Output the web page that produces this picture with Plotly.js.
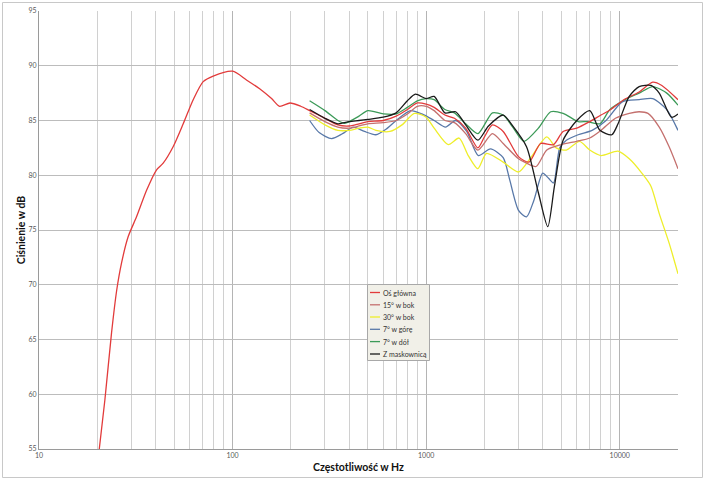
<!DOCTYPE html>
<html>
<head>
<meta charset="utf-8">
<script src="https://cdn.plot.ly/plotly-3.0.1.min.js"></script>
<style>html,body{margin:0;padding:0;background:#fff;}#chart{width:705px;height:481px;}</style>
</head>
<body>
<div id="chart"></div>
<script>
// ---- data ----
const seriesNames = ["Oś główna", "15° w bok", "30° w bok", "7° w górę", "7° w dół", "Z maskownicą"];
const seriesColors = ["#e23b3b", "#c4706e", "#eeee2a", "#5878a8", "#3c9a58", "#1a1a1a"];

const freqMain = [20, 21.9, 23.7, 25.2, 26.7, 28.9, 31.9, 36, 40.5, 43.8, 49.3, 55.6, 62.6, 70.5, 79.4, 100, 118, 138, 159, 175, 198, 225, 250, 300, 350, 400, 450, 500, 600, 700, 800, 900, 1000, 1100, 1250, 1400, 1600, 1850, 2000, 2200, 2500, 3000, 3400, 3900, 4550, 5100, 6000, 7000, 8000, 9000, 10500, 12600, 14800, 16500, 20000];
const dbMain = [53.4, 59.5, 65.6, 69.5, 72.0, 74.4, 76.2, 78.65, 80.5, 81.1, 82.6, 84.7, 86.9, 88.55, 89.06, 89.5, 88.7, 87.9, 87.0, 86.3, 86.6, 86.3, 85.9, 85.2, 84.6, 84.5, 84.7, 84.9, 85.0, 85.4, 86.0, 86.6, 86.5, 86.2, 85.5, 85.2, 84.3, 82.5, 83.5, 84.6, 84.0, 81.7, 81.2, 82.9, 82.8, 84.0, 84.3, 84.9, 85.5, 86.0, 86.9, 87.6, 88.5, 88.2, 86.9];

const freq15 = [250, 300, 350, 400, 450, 500, 600, 700, 800, 900, 1000, 1100, 1250, 1400, 1600, 1850, 2200, 2500, 3000, 3300, 3700, 4200, 5000, 6000, 7000, 8000, 9500, 11200, 12600, 14000, 16000, 18000, 20000];
const db15 = [85.7, 84.9, 84.4, 84.3, 84.5, 84.7, 84.8, 85.0, 85.6, 86.3, 86.3, 85.9, 85.0, 84.8, 83.8, 82.3, 83.8, 82.9, 81.5, 81.1, 80.8, 82.3, 82.8, 83.1, 83.4, 84.1, 85.2, 85.65, 85.8, 85.65, 84.4, 82.6, 80.6];

const freq30 = [250, 300, 350, 400, 450, 500, 550, 650, 750, 870, 1000, 1100, 1300, 1480, 1650, 1850, 2050, 2500, 3000, 3500, 4200, 4700, 5300, 6200, 7000, 8000, 9800, 11200, 13000, 14500, 16000, 18000, 20000];
const db30 = [85.5, 84.6, 84.1, 84.1, 84.3, 84.4, 84.1, 84.0, 84.6, 85.65, 85.3, 84.3, 82.8, 83.4, 81.8, 80.6, 82.0, 81.2, 80.3, 81.7, 83.5, 82.5, 82.3, 83.1, 82.3, 81.8, 82.2, 81.5, 80.2, 79.0, 76.5, 73.8, 71.0];

const freqUp = [250, 280, 325, 370, 420, 480, 550, 620, 700, 830, 950, 1100, 1260, 1420, 1620, 1860, 2150, 2500, 2700, 3000, 3300, 3600, 4000, 4300, 4550, 4900, 5300, 6100, 7200, 8500, 10300, 12600, 14800, 17500, 20000];
const dbUp = [85.0, 83.9, 83.35, 83.8, 84.4, 84.0, 83.7, 84.2, 85.0, 85.9, 85.6, 85.0, 84.4, 85.0, 84.0, 81.8, 82.4, 81.6, 79.6, 76.8, 76.2, 77.7, 80.2, 79.7, 79.3, 82.5, 83.2, 83.7, 84.1, 85.0, 86.7, 86.9, 87.0, 86.0, 84.1];

const freqDown = [250, 300, 350, 380, 450, 500, 600, 700, 800, 900, 1000, 1100, 1250, 1400, 1600, 1850, 2200, 2500, 2800, 3200, 3800, 4400, 5100, 6100, 6800, 7900, 8900, 10900, 12600, 14800, 17500, 20000];
const dbDown = [86.8, 85.9, 85.0, 84.75, 85.4, 85.9, 85.6, 85.6, 86.2, 86.8, 87.0, 86.9, 86.0, 85.7, 84.7, 83.8, 85.7, 85.5, 84.4, 83.1, 84.3, 85.8, 85.65, 84.9, 84.9, 84.7, 86.0, 87.0, 87.5, 88.1, 87.5, 86.4];

const freqGrill = [250, 300, 350, 400, 450, 500, 600, 700, 800, 880, 1000, 1100, 1250, 1420, 1600, 1850, 2100, 2500, 2800, 3300, 3800, 4250, 4600, 5100, 6000, 7000, 7900, 9100, 9800, 11200, 12600, 14500, 16000, 18500, 20000];
const dbGrill = [86.0, 85.2, 84.7, 84.9, 85.0, 85.1, 85.3, 85.7, 86.8, 87.4, 87.0, 87.2, 85.7, 85.8, 84.6, 83.2, 84.5, 85.5, 84.5, 82.6, 78.4, 75.3, 79.0, 83.2, 85.0, 85.9, 84.1, 83.7, 84.7, 87.2, 88.1, 88.2, 87.5, 85.3, 85.6];

const xMajorTicks = [10, 100, 1000, 10000];
const xMajorLabels = ["10", "100", "1000", "10000"];
const xMinorTicks = [20, 30, 40, 50, 60, 70, 80, 90, 200, 300, 400, 500, 600, 700, 800, 900, 2000, 3000, 4000, 5000, 6000, 7000, 8000, 9000, 20000];

const xTitle = "Częstotliwość w Hz";
const yTitle = "Ciśnienie w dB";

// ---- build ----
const allX = [freqMain, freq15, freq30, freqUp, freqDown, freqGrill];
const allY = [dbMain, db15, db30, dbUp, dbDown, dbGrill];
const FONT = 'Lato, "Open Sans", "DejaVu Sans", sans-serif';

const traces = seriesNames.map((n, i) => ({
  type: 'scatter', mode: 'lines', name: n,
  x: allX[i], y: allY[i],
  line: {color: seriesColors[i], width: 1.3, shape: 'spline', smoothing: 0.7},
  showlegend: false, hoverinfo: 'skip'
}));
// draw order: bundle first, black on top
const order = [4, 3, 2, 1, 0, 5];
const data = order.map(i => traces[i]);

// plot area in pixels
const L = 39, R = 678, T = 11, B = 449;
const px2x = p => (p - L) / (R - L);
const px2y = p => (B - p) / (B - T);

const shapes = [];
const annotations = [];
// outer chart frame
shapes.push({type: 'rect', xref: 'paper', yref: 'paper', x0: px2x(2.5), x1: px2x(702.5), y0: px2y(477.5), y1: px2y(2.5),
  line: {color: '#c8c8c8', width: 1}, fillcolor: 'rgba(0,0,0,0)', layer: 'below'});
// legend box
shapes.push({type: 'rect', xref: 'paper', yref: 'paper', x0: px2x(367.5), x1: px2x(429.5), y0: px2y(360.5), y1: px2y(284.5),
  line: {color: '#a8a8a8', width: 1}, fillcolor: '#f1f0e8', layer: 'above'});
const legendRows = [292.5, 304.8, 317, 329.3, 341.6, 354];
seriesNames.forEach((n, i) => {
  const yy = px2y(legendRows[i]);
  shapes.push({type: 'line', xref: 'paper', yref: 'paper', x0: px2x(370), x1: px2x(380), y0: yy, y1: yy,
    line: {color: seriesColors[i], width: 1.3}, layer: 'above'});
  annotations.push({xref: 'paper', yref: 'paper', x: px2x(380.5), y: yy, xanchor: 'left', yanchor: 'middle',
    text: n, showarrow: false, font: {family: FONT, size: 7, color: '#333333'}});
});

const layout = {
  width: 705, height: 481,
  margin: {l: L, r: 705 - R, t: T, b: 481 - B, pad: 0},
  paper_bgcolor: '#ffffff', plot_bgcolor: '#ffffff',
  font: {family: FONT, color: '#404040'},
  xaxis: {
    type: 'log', range: [1, Math.log10(20000)],
    tickmode: 'array', tickvals: xMajorTicks, ticktext: xMajorLabels,
    ticks: '', tickfont: {size: 7, color: '#595959'},
    showgrid: true, gridcolor: '#b4b4b4', gridwidth: 1,
    minor: {tickmode: 'array', tickvals: xMinorTicks, showgrid: true, gridcolor: '#d0d0d0', gridwidth: 1, ticks: ''},
    showline: true, linecolor: '#9a9a9a', linewidth: 1, zeroline: false,
    title: {text: xTitle, font: {family: FONT, size: 10.5, color: '#111111', weight: 'bold'}, standoff: 5}
  },
  yaxis: {
    range: [55, 95], tick0: 55, dtick: 5,
    ticks: '', tickfont: {size: 7, color: '#595959'},
    showgrid: true, gridcolor: '#bcbcbc', gridwidth: 1,
    showline: true, linecolor: '#9a9a9a', linewidth: 1, zeroline: false,
    title: {text: yTitle, font: {family: FONT, size: 10.5, color: '#111111', weight: 'bold'}, standoff: 0}
  },
  shapes: shapes,
  annotations: annotations,
  showlegend: false
};

Plotly.newPlot('chart', data, layout, {staticPlot: true, displayModeBar: false});
</script>
</body>
</html>
